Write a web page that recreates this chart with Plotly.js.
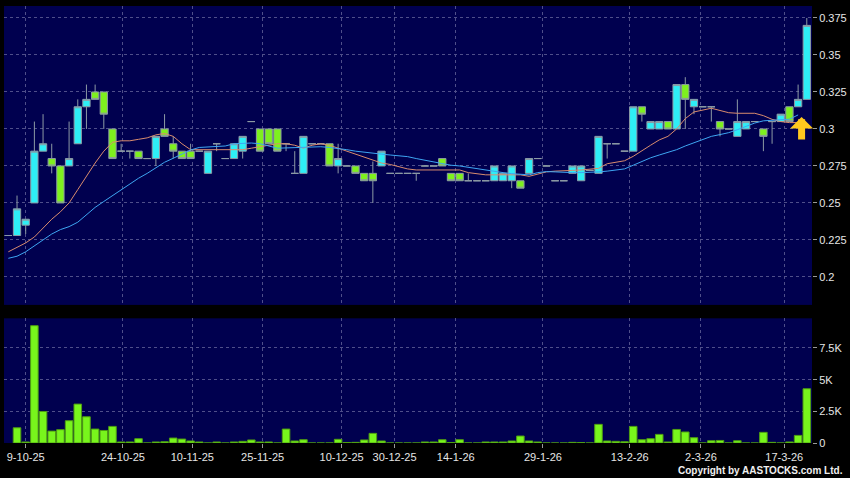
<!DOCTYPE html>
<html>
<head>
<meta charset="utf-8">
<script src="https://cdn.plot.ly/plotly-3.0.1.min.js"></script>
<style>
  html, body { margin: 0; padding: 0; background: #000; }
  #chart { width: 850px; height: 478px; }
</style>
</head>
<body>
<div id="chart"></div>
<script>
// ---- Price data (one entry per trading slot, slot -1 .. 91) ----
const openP = [
  0.228, 0.228, 0.235, 0.250, 0.285, 0.280, 0.275, 0.275, 0.290, 0.315,
  0.325, 0.325, 0.300, 0.285, 0.285, 0.285, 0.280, 0.280, 0.300, 0.290,
  0.285, 0.285, 0.285, 0.270, 0.290, 0.280, 0.280, 0.285, 0.305, 0.300,
  0.300, 0.300, 0.290, 0.270, 0.270, 0.290, 0.290, 0.290, 0.275, 0.275,
  0.275, 0.270, 0.270, 0.275, 0.270, 0.270, 0.270, 0.270, 0.275, 0.275,
  0.280, 0.270, 0.270, 0.265, 0.265, 0.265, 0.265, 0.265, 0.265, 0.265,
  0.270, 0.280, 0.275, 0.265, 0.265, 0.270, 0.265, 0.272, 0.270, 0.290,
  0.290, 0.285, 0.285, 0.315, 0.300, 0.300, 0.305, 0.300, 0.330, 0.315,
  0.315, 0.315, 0.305, 0.300, 0.295, 0.300, 0.305, 0.300, 0.305, 0.305,
  0.315, 0.315, 0.320
];
const highP = [
  0.228, 0.255, 0.239, 0.305, 0.310, 0.290, 0.275, 0.305, 0.320, 0.330,
  0.330, 0.325, 0.300, 0.290, 0.285, 0.285, 0.280, 0.295, 0.310, 0.295,
  0.285, 0.290, 0.285, 0.285, 0.290, 0.280, 0.290, 0.295, 0.305, 0.300,
  0.300, 0.300, 0.290, 0.285, 0.295, 0.290, 0.290, 0.290, 0.290, 0.275,
  0.275, 0.270, 0.278, 0.285, 0.270, 0.270, 0.270, 0.270, 0.275, 0.275,
  0.280, 0.270, 0.270, 0.270, 0.265, 0.265, 0.275, 0.270, 0.275, 0.265,
  0.280, 0.280, 0.275, 0.265, 0.265, 0.275, 0.275, 0.272, 0.295, 0.290,
  0.290, 0.285, 0.315, 0.315, 0.305, 0.305, 0.305, 0.330, 0.335, 0.320,
  0.315, 0.315, 0.305, 0.300, 0.320, 0.305, 0.305, 0.300, 0.305, 0.310,
  0.315, 0.330, 0.375
];
const lowP = [
  0.228, 0.228, 0.229, 0.250, 0.285, 0.270, 0.250, 0.275, 0.290, 0.300,
  0.320, 0.300, 0.280, 0.285, 0.280, 0.280, 0.280, 0.275, 0.295, 0.280,
  0.280, 0.280, 0.285, 0.270, 0.285, 0.280, 0.280, 0.280, 0.305, 0.285,
  0.290, 0.285, 0.285, 0.270, 0.270, 0.290, 0.290, 0.275, 0.270, 0.275,
  0.270, 0.265, 0.250, 0.275, 0.270, 0.270, 0.270, 0.265, 0.275, 0.275,
  0.275, 0.265, 0.265, 0.265, 0.265, 0.265, 0.265, 0.265, 0.260, 0.260,
  0.270, 0.280, 0.275, 0.265, 0.265, 0.270, 0.265, 0.272, 0.270, 0.280,
  0.290, 0.285, 0.285, 0.305, 0.300, 0.300, 0.300, 0.300, 0.300, 0.310,
  0.315, 0.305, 0.295, 0.300, 0.295, 0.300, 0.305, 0.285, 0.290, 0.305,
  0.305, 0.315, 0.320
];
const closeP = [
  0.228, 0.246, 0.239, 0.285, 0.290, 0.275, 0.250, 0.280, 0.315, 0.320,
  0.320, 0.310, 0.280, 0.285, 0.285, 0.280, 0.280, 0.295, 0.295, 0.285,
  0.280, 0.280, 0.285, 0.285, 0.290, 0.280, 0.290, 0.295, 0.305, 0.285,
  0.290, 0.285, 0.290, 0.270, 0.295, 0.290, 0.290, 0.275, 0.280, 0.275,
  0.270, 0.265, 0.265, 0.285, 0.270, 0.270, 0.270, 0.270, 0.275, 0.275,
  0.275, 0.265, 0.265, 0.265, 0.265, 0.265, 0.275, 0.270, 0.275, 0.260,
  0.280, 0.280, 0.275, 0.265, 0.265, 0.275, 0.275, 0.272, 0.295, 0.290,
  0.290, 0.285, 0.315, 0.310, 0.305, 0.305, 0.300, 0.330, 0.320, 0.320,
  0.315, 0.315, 0.300, 0.300, 0.305, 0.305, 0.305, 0.295, 0.305, 0.310,
  0.305, 0.320, 0.370
];
const firstSlot = -1;

// ---- Moving averages (slot -1 .. 90) ----
const maShort = [
  0.217, 0.220, 0.223, 0.227, 0.233, 0.239, 0.244, 0.250, 0.259, 0.268,
  0.277, 0.285, 0.291, 0.292, 0.292, 0.293, 0.294, 0.296, 0.297, 0.295,
  0.290, 0.286, 0.286, 0.286, 0.286, 0.286, 0.286, 0.286, 0.287, 0.288,
  0.289, 0.290, 0.290, 0.289, 0.287, 0.289, 0.290, 0.289, 0.287, 0.285,
  0.283, 0.281, 0.279, 0.277, 0.276, 0.2745, 0.273, 0.2723, 0.2723, 0.2723,
  0.2723, 0.2723, 0.2723, 0.2705, 0.2695, 0.269, 0.269, 0.269, 0.269, 0.269,
  0.268, 0.2695, 0.271, 0.2715, 0.272, 0.272, 0.2723, 0.273, 0.2734, 0.2765,
  0.2775, 0.2785, 0.2815, 0.2855, 0.289, 0.2926, 0.295, 0.300, 0.307, 0.3115,
  0.313, 0.314, 0.3125, 0.311, 0.3106, 0.3106, 0.3106, 0.309, 0.3065, 0.305,
  0.3043, 0.3043
];
const maLong = [
  0.2126, 0.214, 0.217, 0.221, 0.225, 0.229, 0.232, 0.234, 0.237, 0.242,
  0.247, 0.251, 0.255, 0.259, 0.2633, 0.2667, 0.270, 0.274, 0.2775, 0.2802,
  0.283, 0.2858, 0.2875, 0.288, 0.288, 0.2885, 0.290, 0.2905, 0.2905, 0.290,
  0.2885, 0.287, 0.2872, 0.2875, 0.2878, 0.288, 0.288, 0.2875, 0.287, 0.286,
  0.285, 0.2845, 0.284, 0.283, 0.2824, 0.2818, 0.2813, 0.280, 0.2788, 0.2775,
  0.2765, 0.2755, 0.275, 0.274, 0.273, 0.272, 0.2713, 0.2705, 0.2698, 0.2695,
  0.269, 0.2705, 0.2712, 0.271, 0.2705, 0.2705, 0.2705, 0.2705, 0.271, 0.2715,
  0.272, 0.273, 0.2755, 0.278, 0.2805, 0.2824, 0.284, 0.286, 0.2885, 0.2905,
  0.293, 0.295, 0.2962, 0.2975, 0.2995, 0.302, 0.304, 0.3055, 0.306, 0.3063,
  0.3066, 0.3095
];

// ---- Volume (thousands), slot 0 .. 91 ----
const volumeK = [
  1.20, 0.08, 9.26, 2.49, 0.94, 1.05, 1.76, 3.07, 2.07, 1.10,
  0.99, 1.31, 0.08, 0.08, 0.34, 0.00, 0.08, 0.10, 0.39, 0.31,
  0.16, 0.08, 0.00, 0.08, 0.00, 0.08, 0.13, 0.24, 0.08, 0.08,
  0.00, 1.10, 0.16, 0.26, 0.00, 0.00, 0.00, 0.29, 0.04, 0.05,
  0.24, 0.76, 0.16, 0.00, 0.00, 0.00, 0.00, 0.08, 0.08, 0.26,
  0.04, 0.26, 0.00, 0.00, 0.08, 0.08, 0.08, 0.16, 0.55, 0.16,
  0.08, 0.00, 0.00, 0.00, 0.05, 0.03, 0.00, 1.47, 0.16, 0.13,
  0.10, 1.31, 0.26, 0.34, 0.68, 0.08, 1.07, 0.87, 0.42, 0.00,
  0.18, 0.20, 0.00, 0.18, 0.00, 0.00, 0.84, 0.05, 0.00, 0.08,
  0.60, 4.28
];

// ---- Axis ticks ----
const dateTickPos = [1.0, 12.2, 20.2, 28.3, 37.4, 43.5, 50.55, 60.6, 70.6, 78.8, 88.4];
const dateTickText = ['9-10-25', '24-10-25', '10-11-25', '25-11-25', '10-12-25', '30-12-25',
                      '14-1-26', '29-1-26', '13-2-26', '2-3-26', '17-3-26'];
const priceTicks = [0.2, 0.225, 0.25, 0.275, 0.3, 0.325, 0.35, 0.375];
const priceTickText = ['0.2', '0.225', '0.25', '0.275', '0.3', '0.325', '0.35', '0.375'];
const volTicks = [0, 2.5, 5, 7.5];
const volTickText = ['0', '2.5K', '5K', '7.5K'];

// ---- Signal arrow ----
const arrowSlot = 90.4;
const arrowPrice = 0.3081;

// ---- Build ----
const priceSlots = openP.map((_, i) => i + firstSlot);
const maSlots = maShort.map((_, i) => i + firstSlot);
const volSlots = volumeK.map((_, i) => i);

const gridColor = '#4f4f8a';
const tickFont = { family: 'Liberation Sans, Arial, sans-serif', size: 11, color: '#e6e6e6' };

const traces = [
  {
    type: 'candlestick',
    x: priceSlots, open: openP, high: highP, low: lowP, close: closeP,
    xaxis: 'x', yaxis: 'y',
    increasing: { fillcolor: '#2eeef6', line: { color: '#8c9aa4', width: 1 } },
    decreasing: { fillcolor: '#7ef01e', line: { color: '#8c9aa4', width: 1 } },
    whiskerwidth: 0,
    hoverinfo: 'skip',
    showlegend: false
  },
  {
    type: 'scatter', mode: 'lines',
    x: maSlots, y: maShort, xaxis: 'x', yaxis: 'y',
    line: { color: '#d98c6e', width: 1 },
    hoverinfo: 'skip', showlegend: false
  },
  {
    type: 'scatter', mode: 'lines',
    x: maSlots, y: maLong, xaxis: 'x', yaxis: 'y',
    line: { color: '#3ea6f2', width: 1 },
    hoverinfo: 'skip', showlegend: false
  },
  {
    type: 'bar',
    x: volSlots, y: volumeK, xaxis: 'x', yaxis: 'y2',
    marker: { color: '#78f51c', line: { color: '#4f9e12', width: 1 } },
    hoverinfo: 'skip', showlegend: false
  }
];

const layout = {
  width: 850, height: 478,
  paper_bgcolor: '#000000',
  plot_bgcolor: '#00004f',
  margin: { l: 4, r: 38, t: 6, b: 35 },
  showlegend: false,
  boxgap: 0.16, boxgroupgap: 0, boxmode: 'overlay',
  bargap: 0.13,
  font: tickFont,
  xaxis: {
    range: [-1.5, 91.6], anchor: 'y2', domain: [0, 1],
    tickmode: 'array', tickvals: dateTickPos, ticktext: dateTickText,
    showgrid: true, gridcolor: gridColor, griddash: '3px,3px', gridwidth: 1,
    ticks: 'outside', ticklen: 4, tickcolor: '#9a9a9a',
    tickfont: tickFont, zeroline: false, showline: false,
    rangeslider: { visible: false }, fixedrange: true
  },
  yaxis: {
    domain: [0.316, 1], range: [0.1811, 0.3831], side: 'right', anchor: 'x',
    tickmode: 'array', tickvals: priceTicks, ticktext: priceTickText,
    showgrid: true, gridcolor: gridColor, griddash: '3px,3px', gridwidth: 1,
    ticks: 'outside', ticklen: 4, tickcolor: '#9a9a9a',
    tickfont: tickFont, zeroline: false, showline: false, fixedrange: true
  },
  yaxis2: {
    domain: [0, 0.2853], range: [0, 9.84], side: 'right', anchor: 'x',
    tickmode: 'array', tickvals: volTicks, ticktext: volTickText,
    showgrid: true, gridcolor: gridColor, griddash: '3px,3px', gridwidth: 1,
    ticks: 'outside', ticklen: 4, tickcolor: '#9a9a9a',
    tickfont: tickFont, zeroline: false, showline: false, fixedrange: true
  },
  annotations: [
    {
      x: arrowSlot, y: arrowPrice, xref: 'x', yref: 'y',
      text: '', showarrow: true, ax: 0, ay: 24,
      arrowhead: 1, arrowsize: 0.55, arrowwidth: 7, arrowcolor: '#ffc81e'
    },
    {
      text: '<b>Copyright by AASTOCKS.com Ltd.</b>',
      xref: 'paper', yref: 'paper', x: 1.041, y: -0.064,
      xanchor: 'right', yanchor: 'middle', showarrow: false,
      font: { family: 'Liberation Sans, Arial, sans-serif', size: 10, color: '#f0f0f0' }
    }
  ]
};

Plotly.newPlot('chart', traces, layout, { displayModeBar: false, staticPlot: true });
</script>
</body>
</html>
